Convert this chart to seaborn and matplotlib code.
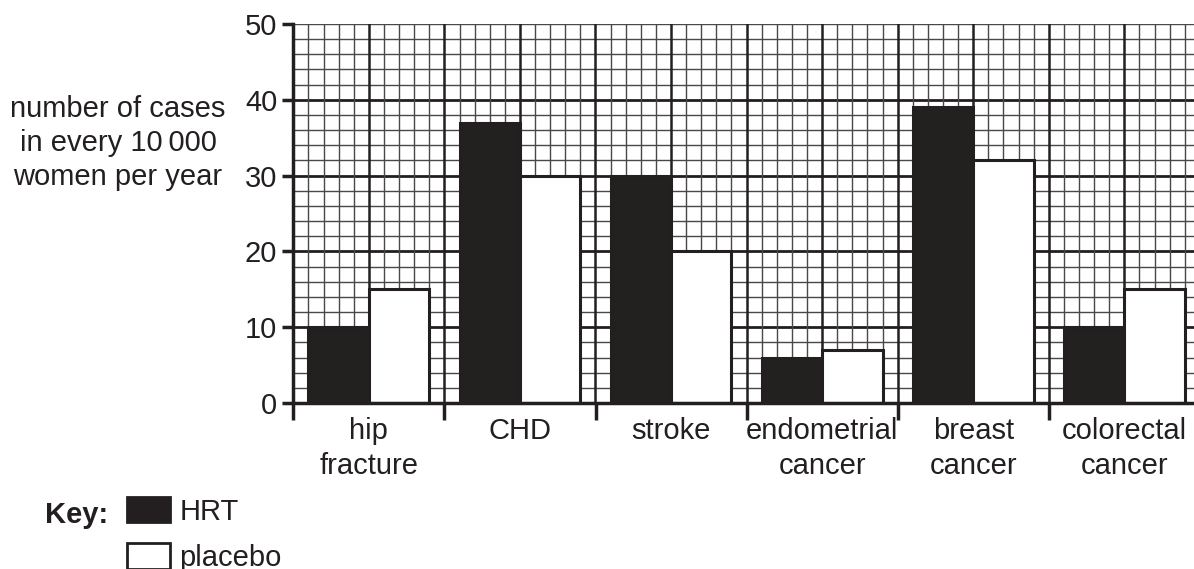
import numpy as np
import pandas as pd
import matplotlib
matplotlib.use('Agg')
import matplotlib.pyplot as plt
import seaborn as sns

# Data
categories = ['hip\nfracture', 'CHD', 'stroke', 'endometrial\ncancer', 'breast\ncancer', 'colorectal\ncancer']
hrt = [10, 37, 30, 6, 39, 10]
placebo = [15, 30, 20, 7, 32, 15]
groups = ['HRT', 'placebo']

df = pd.DataFrame({
    'category': categories * 2,
    'group': ['HRT'] * len(categories) + ['placebo'] * len(categories),
    'cases': hrt + placebo,
})

ink = '#231f20'
fs = 21
sns.set_style('white')
plt.rcParams['font.family'] = ['Liberation Sans', 'DejaVu Sans']
plt.rcParams['font.size'] = fs

W, H = 1194, 569
fig = plt.figure(figsize=(W / 100, H / 100), dpi=100)
# axes runs a little past the right edge, as in the cropped original
ax = fig.add_axes([293.3 / W, 1 - 403 / H, 906.6 / W, 379 / H])

sns.barplot(data=df, x='category', y='cases', hue='group', order=categories,
            hue_order=groups, palette={'HRT': ink, 'placebo': 'white'},
            edgecolor=ink, linewidth=2.2, width=0.8, ax=ax, legend=False)

ax.set_xlim(-0.5, 5.5)
ax.set_ylim(0, 50)

# graph paper grid
minor_col = '#4a4748'
for y in np.arange(2, 51, 2):
    major = (y % 10 == 0) and y < 50
    ax.axhline(y, color=ink if major else minor_col, lw=2.0 if major else 1.0, zorder=0.5)
for x in np.arange(-0.4, 5.55, 0.1):
    major = abs(x * 2 - round(x * 2)) < 1e-6
    ax.axvline(x, color=ink if major else minor_col, lw=1.8 if major else 1.0, zorder=0.5)
ax.set_axisbelow(True)

for s in ['top', 'right']:
    ax.spines[s].set_visible(False)
for s in ['left', 'bottom']:
    ax.spines[s].set_color(ink)
    ax.spines[s].set_linewidth(2.5)
    ax.spines[s].set_zorder(3)

ax.set_yticks(range(0, 51, 10))
ax.tick_params(axis='y', direction='out', length=8, width=2.5, color=ink,
               labelcolor=ink, labelsize=fs, pad=3.5, left=True)
ax.tick_params(axis='x', length=0, labelcolor=ink, labelsize=fs, pad=10)
for lab in ax.get_xticklabels():
    lab.set_linespacing(1.31)
    lab.set_va('top')

# tick marks at category boundaries
sec = ax.secondary_xaxis('bottom')
sec.set_xticks(np.arange(-0.5, 5.6, 1.0))
sec.set_xticklabels([])
sec.tick_params(axis='x', direction='out', length=12, width=2.5, color=ink)
sec.spines['bottom'].set_visible(False)

ax.set_xlabel('')
ax.set_ylabel('')
fig.text(118 / W, 1 - 143 / H, 'number of cases\nin every 10\u2009000\nwomen per year',
         ha='center', va='center', fontsize=fs, color=ink, linespacing=1.26)

# key
fig.text(45 / W, 1 - 515 / H, 'Key:', ha='left', va='center', fontsize=fs,
         fontweight='bold', color=ink)
handles = [plt.Rectangle((0, 0), 1, 1, facecolor=ink, edgecolor=ink, lw=2),
           plt.Rectangle((0, 0), 1, 1, facecolor='white', edgecolor=ink, lw=2)]
fig.legend(handles, groups, loc='upper left', bbox_to_anchor=(127 / W, 1 - 497 / H),
           frameon=False, borderpad=0, borderaxespad=0, handlelength=1.47,
           handleheight=0.96, handletextpad=0.32, labelspacing=0.6,
           fontsize=fs, labelcolor=ink)

fig.savefig('out.png', dpi=100)
